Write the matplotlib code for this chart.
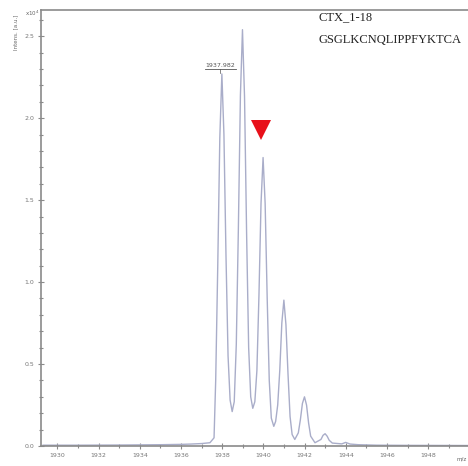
#!/usr/bin/env python3
"""
Isotope pattern of CTX_1-18 (MALDI spectrum view) redrawn with matplotlib.
"""

import matplotlib
matplotlib.use('Agg')
import matplotlib.pyplot as plt

# Trace of the spectrum (m/z, intensity x10^4)
mz = [1929.3, 1931.0, 1933.0, 1935.0, 1936.0, 1936.5, 1937.0, 1937.4, 1937.6,
      1937.68, 1937.78, 1937.88, 1937.98, 1938.08, 1938.18, 1938.28, 1938.38, 1938.48,
      1938.58, 1938.68, 1938.78, 1938.88, 1938.98, 1939.08, 1939.18, 1939.28, 1939.38, 1939.48,
      1939.58, 1939.68, 1939.78, 1939.88, 1939.98, 1940.08, 1940.18, 1940.28, 1940.38, 1940.50,
      1940.59, 1940.69, 1940.79, 1940.89, 1940.99, 1941.09, 1941.19, 1941.29, 1941.39, 1941.52,
      1941.69, 1941.79, 1941.89, 1941.99, 1942.09, 1942.19, 1942.29, 1942.50,
      1942.79, 1942.89, 1942.99, 1943.09, 1943.19, 1943.34,
      1943.80, 1943.99, 1944.20, 1944.6, 1945.5, 1947.0, 1950.2]
intensity = [0.005, 0.005, 0.006, 0.008, 0.010, 0.012, 0.015, 0.020, 0.05,
             0.40, 1.10, 1.88, 2.27, 1.90, 1.16, 0.55, 0.28, 0.21,
             0.27, 0.62, 1.32, 2.14, 2.54, 2.13, 1.30, 0.60, 0.30, 0.23,
             0.27, 0.46, 0.92, 1.48, 1.76, 1.48, 0.90, 0.40, 0.17, 0.12,
             0.15, 0.25, 0.46, 0.75, 0.89, 0.74, 0.44, 0.18, 0.07, 0.04,
             0.08, 0.16, 0.26, 0.30, 0.25, 0.14, 0.06, 0.02,
             0.04, 0.065, 0.075, 0.06, 0.035, 0.018,
             0.013, 0.022, 0.012, 0.008, 0.005, 0.004, 0.003]

# Annotated peaks
label_mz = 1937.90
label_int = 2.27
label_text = '1937.982'
marked_mz = 1939.88
marked_int = 1.76

title_lines = ['CTX_1-18', 'GSGLKCNQLIPPFYKTCA']

fig = plt.figure(figsize=(4.68, 4.66), dpi=100)
ax = fig.add_axes([0.0876, 0.0429, 0.92, 0.9356])

ax.plot(mz, intensity, color='#a9adc9', linewidth=1.0)

ax.set_xlim(1929.2, 1950.1)
ax.set_ylim(0, 2.66)

ax.set_xticks(range(1930, 1950, 2))
ax.set_xticks(range(1930, 1951, 1), minor=True)
ax.set_yticks([0.0, 0.5, 1.0, 1.5, 2.0, 2.5])
ax.set_yticklabels(['0.0', '0.5', '1.0', '1.5', '2.0', '2.5'])
ax.set_yticks([i / 10 for i in range(0, 27)], minor=True)

for side in ['left', 'bottom', 'top']:
    ax.spines[side].set_color('#8a8a8a')
    ax.spines[side].set_linewidth(1.2)
ax.spines['right'].set_visible(False)
ax.tick_params(which='both', direction='inout', color='#8a8a8a', width=0.8)
ax.tick_params(which='major', length=4, labelsize=4.5, labelcolor='#777777', pad=3)
ax.tick_params(which='minor', length=2.5)

# peak label with underline
ax.text(label_mz, label_int + 0.035, label_text, ha='center', va='bottom',
        fontsize=4.5, color='#555555')
ax.plot([label_mz - 0.75, label_mz + 0.75], [label_int + 0.03] * 2,
        color='#555555', linewidth=0.6)
ax.plot([label_mz, label_mz], [label_int + 0.03, label_int + 0.005],
        color='#555555', linewidth=0.5)

# red arrow head over the marked peak
ax.plot(marked_mz, marked_int + 0.17, marker='v', color='#e8101a',
        markersize=15, markeredgewidth=0)

# sample name and sequence
fig.text(0.68, 0.975, title_lines[0], family='Liberation Serif', fontsize=9,
         va='top', color='#222222')
fig.text(0.68, 0.928, title_lines[1], family='Liberation Serif', fontsize=9,
         va='top', color='#222222')

fig.text(0.053, 0.972, 'x10$^4$', fontsize=4, color='#666666', va='center')
fig.text(0.033, 0.93, 'Intens. [a.u.]', fontsize=4, color='#666666',
         rotation=90, ha='center', va='center')
fig.text(0.975, 0.012, 'm/z', fontsize=4, color='#666666', ha='left')

plt.savefig('out.png', dpi=100)
print("Saved: out.png")
